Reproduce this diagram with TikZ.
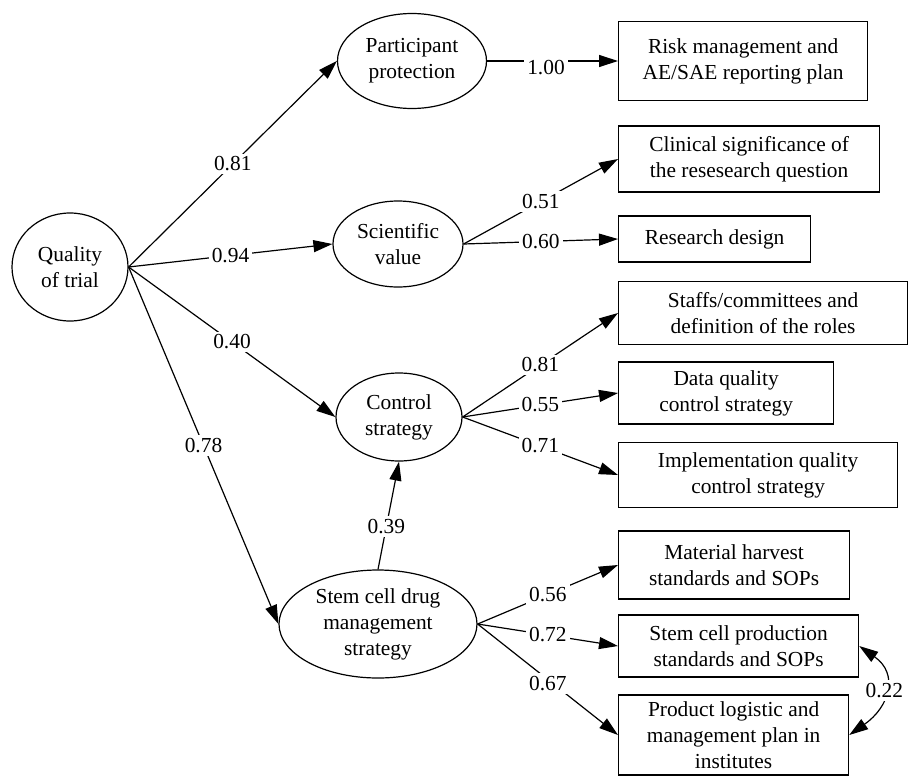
\documentclass[tikz,border=0pt]{standalone}
\usepackage{fontspec}
\setmainfont{Liberation Serif}
\usepackage{tikz}
\usetikzlibrary{shapes.geometric, arrows.meta, positioning}

\tikzset{
	latent/.style={ellipse, draw, line width=0.6pt, inner sep=0pt, align=center},
	indic/.style={rectangle, draw, line width=0.6pt, inner sep=0pt, align=center, anchor=west},
	conn/.style={-{Triangle[length=9.5pt,width=6pt]}, line width=0.6pt},
	coef/.style={fill=white, inner sep=1.5pt},
}

\begin{document}
\begin{tikzpicture}[x=0.5pt, y=-0.5pt, every node/.style={font=\fontsize{10.7}{13}\selectfont}]
	\useasboundingbox (0,0) rectangle (909,777);

	% latent variables
	\node[latent, minimum width=58pt, minimum height=54pt] (q) at (70,267) {Quality\\of trial};
	\node[latent, minimum width=74.5pt, minimum height=47.5pt] (pp) at (412,61) {Participant\\protection};
	\node[latent, minimum width=65pt, minimum height=43pt] (sv) at (398,244) {Scientific\\value};
	\node[latent, minimum width=63pt, minimum height=44pt] (cs) at (399,417) {Control\\strategy};
	\node[latent, minimum width=99pt, minimum height=54pt] (sc) at (378,624) {Stem cell drug\\management\\strategy};

	% observed items
	\node[indic, minimum width=124.5pt, minimum height=39.5pt] (risk) at (618,61) {Risk management and\\AE/SAE reporting plan};
	\node[indic, minimum width=130.5pt, minimum height=33pt] (clin) at (618,159) {Clinical significance of\\the resesearch question};
	\node[indic, minimum width=96pt, minimum height=23pt] (rd) at (618,239) {Research design};
	\node[indic, minimum width=144.5pt, minimum height=31.5pt] (staff) at (618,313) {Staffs/committees and\\definition of the roles};
	\node[indic, minimum width=107.5pt, minimum height=31pt] (dq) at (618,393) {Data quality\\control strategy};
	\node[indic, minimum width=139.5pt, minimum height=32.5pt] (impl) at (618,475) {Implementation quality\\control strategy};
	\node[indic, minimum width=115.5pt, minimum height=34pt] (mat) at (618,565) {Material harvest\\standards and SOPs};
	\node[indic, minimum width=120pt, minimum height=31pt] (prod) at (618,646) {Stem cell production\\standards and SOPs};
	\node[indic, minimum width=115pt, minimum height=40pt] (logi) at (618,735) {Product logistic and\\management plan in\\institutes};

	\draw[conn] (q.east) -- node[coef] {0.81} (pp.west);
	\draw[conn] (q.east) -- node[coef] {0.94} (sv.west);
	\draw[conn] (q.east) -- node[coef] {0.40} (cs.west);
	\draw[conn] (q.east) -- node[coef] {0.78} (sc.west);
	\draw[conn] (sc.north) -- node[coef, pos=0.4] {0.39} (cs.south);

	\draw[conn] (pp.east) -- node[coef, pos=0.45, yshift=-3.5pt] {1.00} (risk.west);
	\draw[conn] (sv.east) -- node[coef] {0.51} (clin.west);
	\draw[conn] (sv.east) -- node[coef] {0.60} (rd.west);
	\draw[conn] (cs.east) -- node[coef] {0.81} (staff.west);
	\draw[conn] (cs.east) -- node[coef] {0.55} (dq.west);
	\draw[conn] (cs.east) -- node[coef] {0.71} (impl.west);
	\draw[conn] (sc.east) -- node[coef] {0.56} (mat.west);
	\draw[conn] (sc.east) -- node[coef] {0.72} (prod.west);
	\draw[conn] (sc.east) -- node[coef, yshift=-2pt] {0.67} (logi.west);

	\draw[line width=0.6pt, {Triangle[length=9.5pt,width=6pt]}-{Triangle[length=9.5pt,width=6pt]}] (prod.east) to[out=-35, in=35, looseness=1.4] node[coef] {0.22} (logi.east);
\end{tikzpicture}
\end{document}
